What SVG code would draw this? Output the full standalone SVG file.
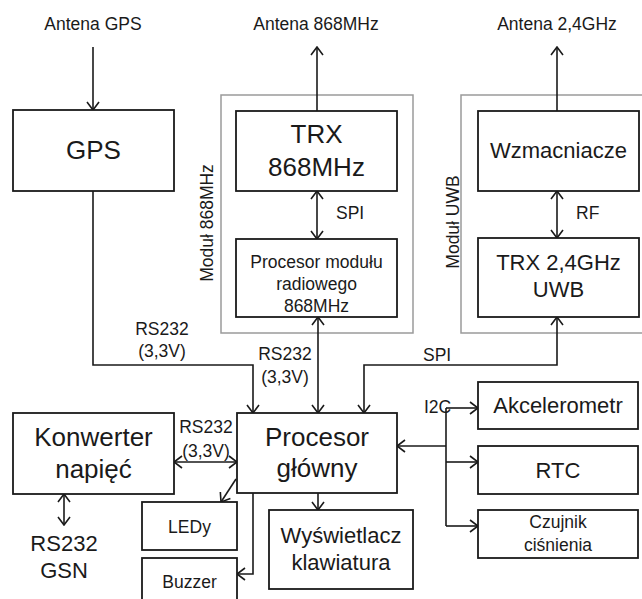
<svg xmlns="http://www.w3.org/2000/svg" width="642" height="599" viewBox="0 0 642 599">
<style>
text{font-family:"Liberation Sans",Arial,sans-serif;fill:#1a1a1a;text-anchor:middle}
.s{font-size:17.5px}
.m{font-size:22px}
.l{font-size:26px}
.st{text-anchor:start}
.box{fill:#fff;stroke:#1a1a1a;stroke-width:1.8}
.mod{fill:none;stroke:#9a9a9a;stroke-width:1.5}
.c{fill:none;stroke:#1a1a1a;stroke-width:1.6}
.e{marker-end:url(#a)}
.b{marker-start:url(#a);marker-end:url(#a)}
</style>
<defs>
<marker id="a" viewBox="0 0 10 14" refX="9" refY="7" markerWidth="10" markerHeight="14" markerUnits="userSpaceOnUse" orient="auto-start-reverse">
<path d="M1,1 L9,7 L1,13" fill="none" stroke="#1a1a1a" stroke-width="1.6"/>
</marker>
</defs>
<rect width="642" height="599" fill="#fff"/>
<g id="modules">
<rect id="mod868" class="mod" x="221" y="95" width="192" height="238"/>
<text class="s" transform="translate(213,223) rotate(-90)">Moduł 868MHz</text>
<rect id="moduwb" class="mod" x="461" y="95" width="200" height="238"/>
<text class="s" transform="translate(459,222) rotate(-90)">Moduł UWB</text>
</g>
<g id="labels">
<text class="s" x="93" y="30">Antena GPS</text>
<text class="s" x="316" y="30">Antena 868MHz</text>
<text class="s" x="557" y="30">Antena 2,4GHz</text>
<text class="s st" x="336" y="219">SPI</text>
<text class="s st" x="576" y="219">RF</text>
<text class="s" x="162" y="335">RS232</text>
<text class="s" x="162" y="357">(3,3V)</text>
<text class="s" x="285" y="360">RS232</text>
<text class="s" x="285" y="383">(3,3V)</text>
<text class="s st" x="423" y="361">SPI</text>
<text class="s" x="206" y="433">RS232</text>
<text class="s" x="206" y="457">(3,3V)</text>
<text class="s st" x="424" y="413">I2C</text>
<text class="m" x="64" y="551">RS232</text>
<text class="m" x="64" y="578">GSN</text>
</g>
<g id="connectors">
<path class="c e" d="M93,47 V110"/>
<path class="c e" d="M317,111 V47"/>
<path class="c e" d="M557,111 V47"/>
<path class="c b" d="M317,191 V239"/>
<path class="c b" d="M557,191 V238"/>
<path class="c e" d="M93,191 V365 H253 V413"/>
<path class="c b" d="M318,317 V413"/>
<path class="c b" d="M364,413 V365 H557 V317"/>
<path class="c b" d="M174,462 H237"/>
<path class="c b" d="M64,494 V525"/>
<path class="c e" d="M236,479 L221,502"/>
<path class="c e" d="M253,493 V574 H237"/>
<path class="c e" d="M318,493 V510"/>
<path class="c e" d="M446,446 H397"/>
<path class="c" d="M446,408 V526"/>
<path class="c e" d="M446,408 H478"/>
<path class="c e" d="M446,462 H478"/>
<path class="c e" d="M446,526 H478"/>
</g>
<g id="gps"><rect class="box" x="13" y="110" width="161" height="81"/><text class="l" x="93.5" y="159">GPS</text></g>
<g id="trx868"><rect class="box" x="236" y="111" width="161" height="80"/><text class="l" x="316.5" y="143">TRX</text><text class="l" x="316.5" y="176">868MHz</text></g>
<g id="proc868"><rect class="box" x="236" y="239" width="161" height="78"/><text class="s" x="316.5" y="268">Procesor modułu</text><text class="s" x="316.5" y="290">radiowego</text><text class="s" x="316.5" y="312">868MHz</text></g>
<g id="wzm"><rect class="box" x="478" y="111" width="161" height="80"/><text class="m" x="558.5" y="158">Wzmacniacze</text></g>
<g id="trxuwb"><rect class="box" x="478" y="238" width="161" height="79"/><text class="m" x="558.5" y="270">TRX 2,4GHz</text><text class="m" x="558.5" y="297">UWB</text></g>
<g id="konwerter"><rect class="box" x="13" y="413" width="161" height="81"/><text class="l" x="93.5" y="446">Konwerter</text><text class="l" x="93.5" y="478">napięć</text></g>
<g id="procesor"><rect class="box" x="237" y="413" width="160" height="80"/><text class="l" x="317" y="446">Procesor</text><text class="l" x="317" y="477">główny</text></g>
<g id="ledy"><rect class="box" x="142" y="502" width="95" height="48"/><text class="s" x="189.5" y="533">LEDy</text></g>
<g id="buzzer"><rect class="box" x="142" y="558" width="95" height="50"/><text class="s" x="189.5" y="588">Buzzer</text></g>
<g id="wysw"><rect class="box" x="269" y="510" width="144" height="79"/><text class="m" x="341" y="543">Wyświetlacz</text><text class="m" x="341" y="570">klawiatura</text></g>
<g id="akc"><rect class="box" x="478" y="382" width="160" height="47"/><text class="m" x="558" y="413">Akcelerometr</text></g>
<g id="rtc"><rect class="box" x="478" y="446" width="160" height="48"/><text class="m" x="558" y="478">RTC</text></g>
<g id="czujnik"><rect class="box" x="478" y="510" width="160" height="48"/><text class="s" x="558" y="528">Czujnik</text><text class="s" x="558" y="551">ciśnienia</text></g>
</svg>
